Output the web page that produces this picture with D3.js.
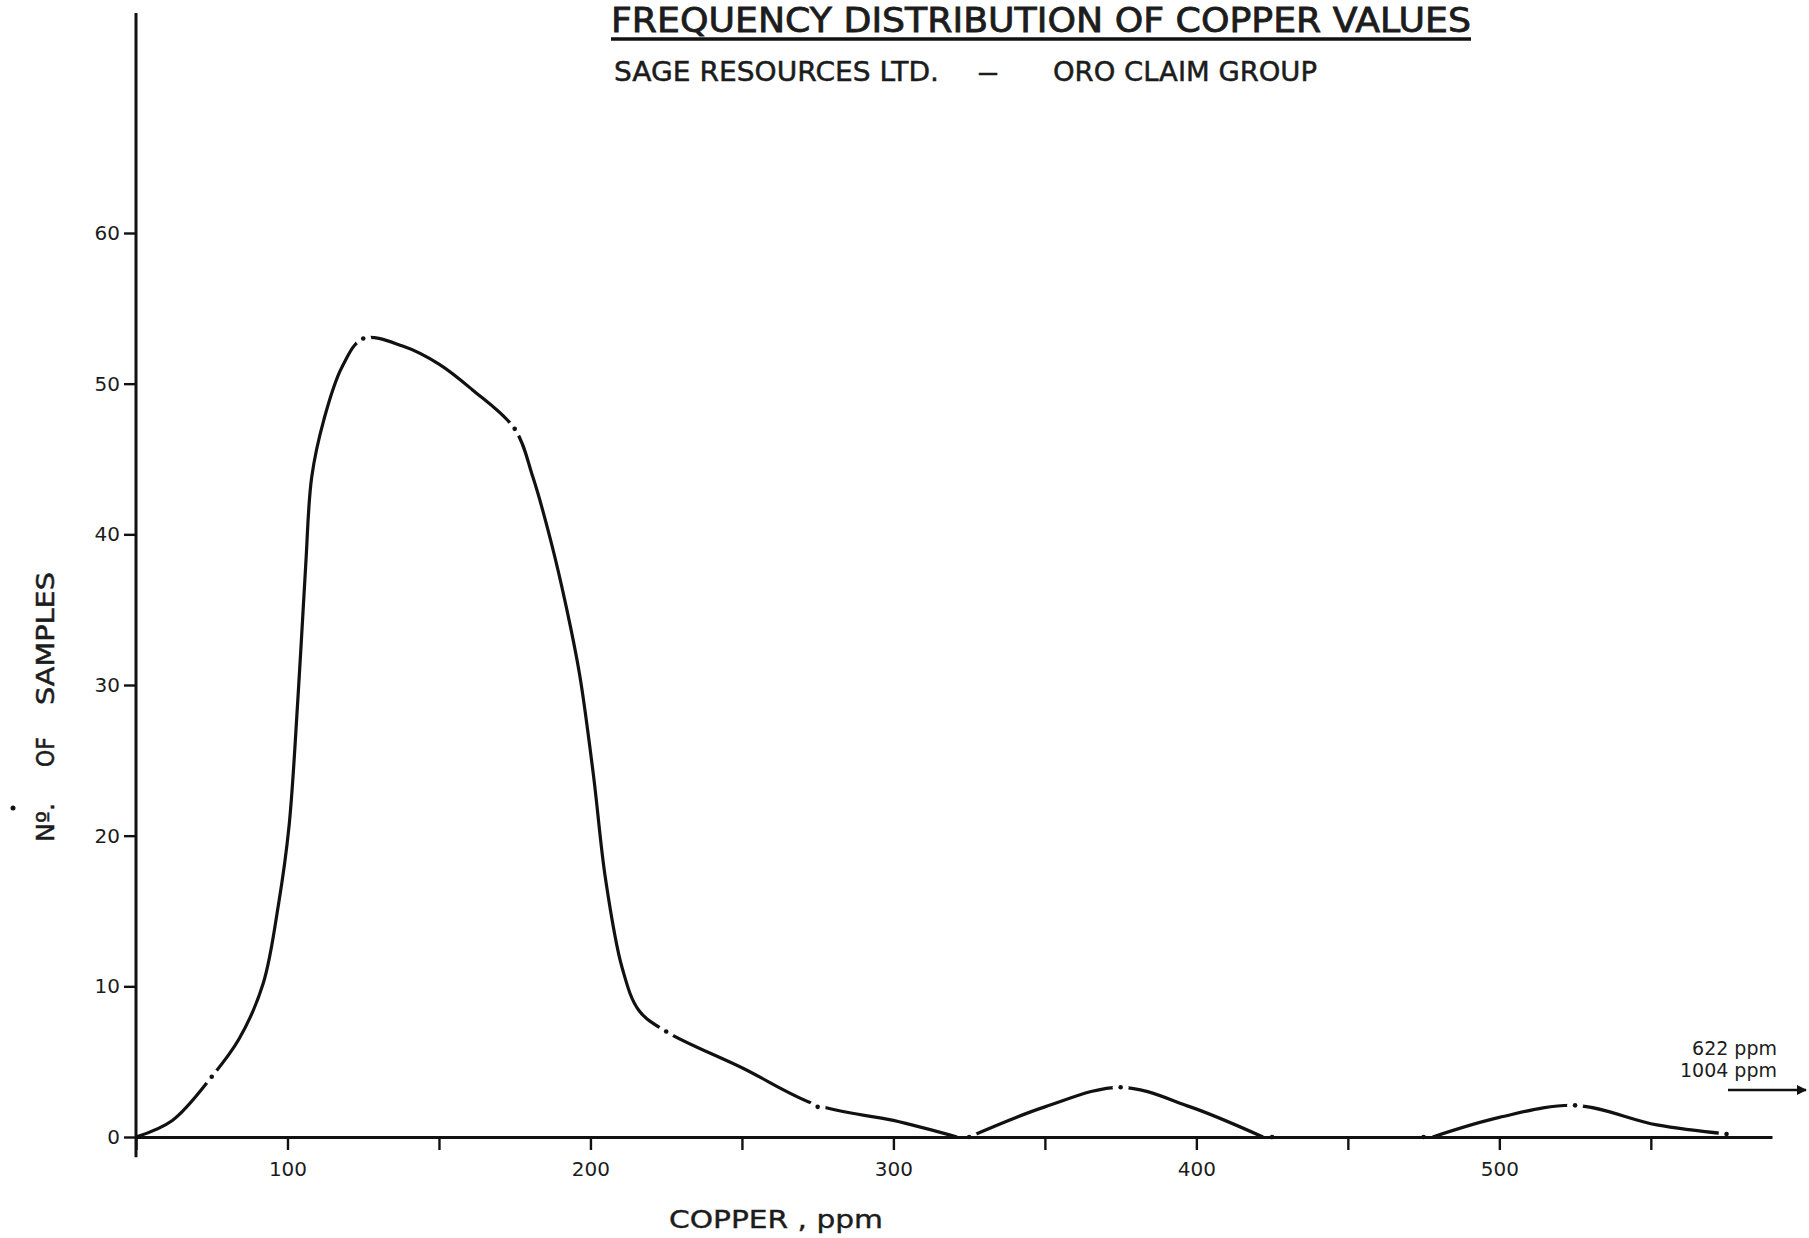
<!DOCTYPE html>
<html>
<head>
<meta charset="utf-8">
<script src="https://cdn.jsdelivr.net/npm/d3@7"></script>
<style>
  body { margin: 0; background: #fff; }
  #figure { width: 1809px; height: 1238px; }
  text { font-family: "DejaVu Sans", sans-serif; fill: #1c1c1c; }
</style>
</head>
<body>
<div id="figure"></div>
<script>
// curve as drawn (copper ppm, no. of samples); null = pen lifted
const curve_ppm   = [50, 62, 75, 84, 92, 97, 100.5, 103.5, 106, 108, 112, 118, 125, 138, 150, 161, 175, 181, 187, 192, 196.5, 201, 205, 210.5, 216, 225, 250, 275, 300, 321, 323, 325, 350, 375, 398, 422, 450, 478, 500, 525, 552, 575];
const curve_count = [0, 1.1, 4, 6.5, 10.2, 15.4, 20.6, 29.3, 37.9, 43.8, 47.6, 51.1, 53, 52.5, 51.3, 49.6, 47, 43.8, 39.5, 35.2, 30.6, 24, 17.1, 11.2, 8.4, 7, 4.6, 2.1, 1.1, 0, null, 0, 2, 3.3, 2, 0, null, 0, 1.3, 2.1, 0.8, 0.2];

// plotted class points (mid-point of each 50 ppm class)
const class_mid   = [75, 125, 175, 225, 275, 325, 375, 425, 475, 525, 575];
const class_count = [4, 53, 47, 7, 2, 0, 3.3, 0, 0, 2.1, 0.2];

const x_ticks  = [50, 100, 150, 200, 250, 300, 350, 400, 450, 500, 550];
const x_labels = [100, 200, 300, 400, 500];
const y_ticks  = [0, 10, 20, 30, 40, 50, 60];
const outliers = ["622 ppm", "1004 ppm"];

document.addEventListener("DOMContentLoaded", ()=>{
  const figure_width = 1809, figure_height = 1238;

  let x_scale = d3.scaleLinear()
                  .domain([50, 590])
                  .range([136, 1772]);

  let y_scale = d3.scaleLinear()
                  .domain([0, 60])
                  .range([1137, 233]);

  let svg = d3.select("#figure").append("svg")
              .attr("width", figure_width)
              .attr("height", figure_height)
              .style("background", "#fff");

  // curve
  let points = curve_ppm.map((p, i) => ({x: p, y: curve_count[i]}));
  let line = d3.line()
               .defined(d => d.y !== null)
               .x(d => x_scale(d.x))
               .y(d => y_scale(d.y))
               .curve(d3.curveCatmullRom.alpha(0.5));

  svg.append("path")
     .datum(points)
     .attr("d", line)
     .attr("fill", "none")
     .attr("stroke", "#111")
     .attr("stroke-width", 3.2)
     .attr("stroke-linejoin", "round");

  // breaks in the pen line either side of each plotted point
  let dots = class_mid.map((p, i) => ({x: p, y: class_count[i]}));
  svg.append("g").selectAll("circle")
     .data(dots).join("circle")
     .attr("cx", d => x_scale(d.x))
     .attr("cy", d => y_scale(d.y))
     .attr("r", 8)
     .attr("fill", "#fff");
  svg.append("g").selectAll("circle")
     .data(dots).join("circle")
     .attr("cx", d => x_scale(d.x))
     .attr("cy", d => y_scale(d.y))
     .attr("r", 2.3)
     .attr("fill", "#111");

  // x axis
  let x_axis = svg.append("g")
     .attr("transform", "translate(0," + y_scale(0) + ")")
     .call(d3.axisBottom(x_scale)
             .tickValues(x_ticks)
             .tickSize(13)
             .tickSizeOuter(0)
             .tickPadding(12)
             .tickFormat(d => x_labels.includes(d) ? d : ""));
  x_axis.select(".domain").attr("stroke", "#111").attr("stroke-width", 3.2);
  x_axis.selectAll(".tick line").attr("stroke", "#111").attr("stroke-width", 2.4);
  x_axis.selectAll("text").attr("font-size", 20).attr("fill", "#333");

  // y axis
  let y_axis = svg.append("g")
     .attr("transform", "translate(" + x_scale(50) + ",0)")
     .call(d3.axisLeft(y_scale)
             .tickValues(y_ticks)
             .tickSize(12)
             .tickSizeOuter(0)
             .tickPadding(4));
  y_axis.select(".domain").remove();
  y_axis.selectAll(".tick line").attr("stroke", "#111").attr("stroke-width", 2.4);
  y_axis.selectAll("text").attr("font-size", 20).attr("fill", "#333");

  svg.append("line")
     .attr("x1", x_scale(50)).attr("x2", x_scale(50))
     .attr("y1", y_scale(-1.35)).attr("y2", y_scale(74.6))
     .attr("stroke", "#111")
     .attr("stroke-width", 3);

  // titles (pen lettering is heavier than the font, so a thin outline)
  svg.append("text")
     .attr("x", 611).attr("y", 32)
     .attr("font-size", 33)
     .attr("stroke", "#1c1c1c").attr("stroke-width", 0.8)
     .attr("textLength", 860)
     .attr("lengthAdjust", "spacingAndGlyphs")
     .text("FREQUENCY  DISTRIBUTION  OF  COPPER  VALUES");
  svg.append("line")
     .attr("x1", 611).attr("x2", 1471)
     .attr("y1", 39).attr("y2", 39)
     .attr("stroke", "#111")
     .attr("stroke-width", 3.5);

  [["SAGE  RESOURCES  LTD.", 614, 325], ["–", 977, 22], ["ORO  CLAIM  GROUP", 1053, 264]].forEach(w => {
    svg.append("text")
       .attr("x", w[1]).attr("y", 81)
       .attr("font-size", 27)
       .attr("stroke", "#1c1c1c").attr("stroke-width", 0.5)
       .attr("textLength", w[2])
       .attr("lengthAdjust", "spacingAndGlyphs")
       .text(w[0]);
  });

  // axis titles
  svg.append("text")
     .attr("x", 669).attr("y", 1228)
     .attr("font-size", 24)
     .attr("stroke", "#1c1c1c").attr("stroke-width", 0.4)
     .attr("textLength", 214)
     .attr("lengthAdjust", "spacingAndGlyphs")
     .text("COPPER , ppm");

  // y title, lettered as three words
  [["Nº.", 842, 39], ["OF", 767, 30], ["SAMPLES", 705, 133]].forEach(w => {
    svg.append("text")
       .attr("transform", "translate(54," + w[1] + ") rotate(-90)")
       .attr("font-size", 25)
       .attr("stroke", "#1c1c1c").attr("stroke-width", 0.5)
       .attr("textLength", w[2])
       .attr("lengthAdjust", "spacingAndGlyphs")
       .text(w[0]);
  });
  svg.append("circle")
     .attr("cx", 13).attr("cy", 808)
     .attr("r", 2.5)
     .attr("fill", "#111");

  // values off the scale
  svg.selectAll(".outlier")
     .data(outliers).join("text")
     .attr("class", "outlier")
     .attr("x", 1777)
     .attr("y", (d, i) => 1055 + i * 22)
     .attr("font-size", 19)
     .attr("text-anchor", "end")
     .attr("fill", "#333")
     .text(d => d);

  svg.append("defs").append("marker")
     .attr("id", "head")
     .attr("viewBox", "0 0 10 10")
     .attr("refX", 9).attr("refY", 5)
     .attr("markerWidth", 5).attr("markerHeight", 4)
     .attr("orient", "auto")
     .append("path")
     .attr("d", "M0,0L10,5L0,10z")
     .attr("fill", "#111");
  svg.append("line")
     .attr("x1", 1728).attr("x2", 1806)
     .attr("y1", 1090).attr("y2", 1090)
     .attr("stroke", "#111")
     .attr("stroke-width", 2.5)
     .attr("marker-end", "url(#head)");

})//DOMContentLoaded
</script>
</body>
</html>
